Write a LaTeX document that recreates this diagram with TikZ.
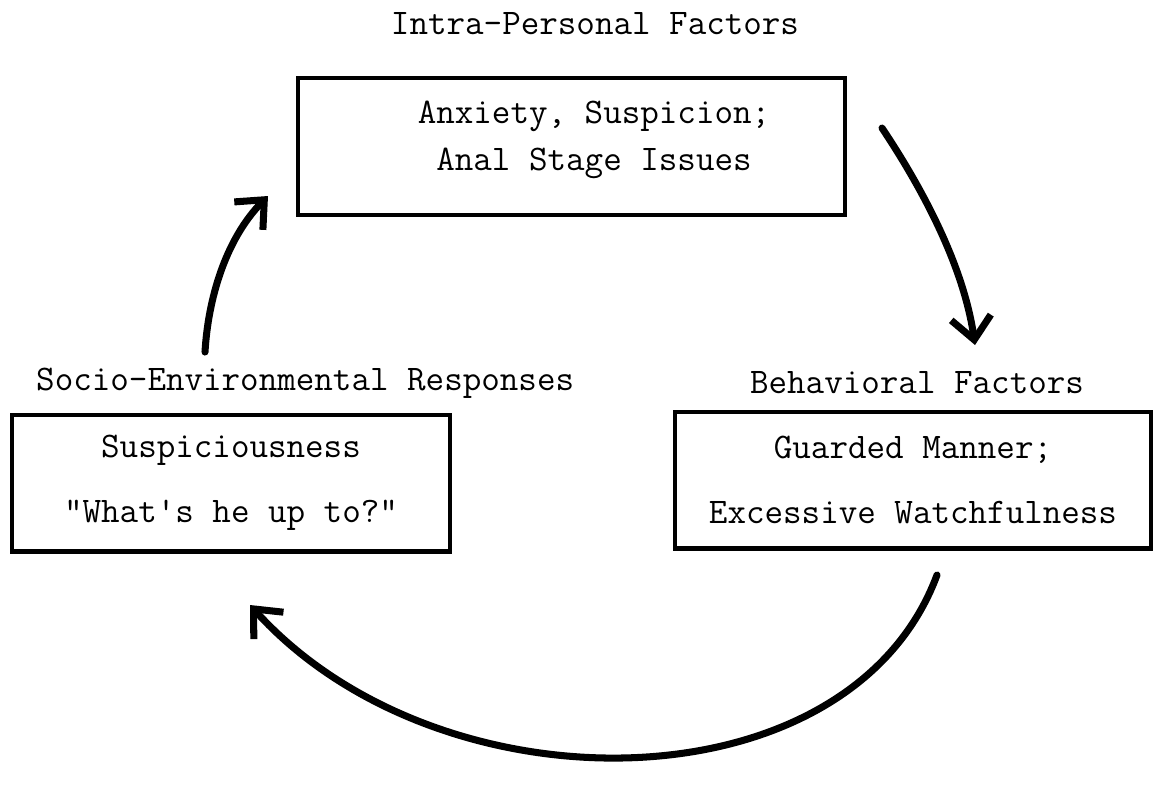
\documentclass[tikz,border=0pt]{standalone}
\usepackage{fontspec}
\usetikzlibrary{arrows.meta}
\tikzset{
  factorbox/.style={draw, line width=2.3pt, minimum height=2.74cm, align=center},
  loop/.style={line width=4pt, line cap=round, -{Straight Barb[length=4.5mm, width=8mm, line width=4pt]}},
}
\begin{document}
\begin{tikzpicture}[x=0.02cm, y=-0.02cm, font=\ttfamily\fontsize{20.5}{37}\selectfont]
\useasboundingbox (0,0) rectangle (1156,792);

\node (intra) at (595,24) {Intra-Personal Factors};
\draw [line width=2.3pt] (298,78) rectangle (845,215);
\node [align=center, font=\ttfamily\fontsize{20.5}{27}\selectfont] (anxiety) at (594,140) {Anxiety, Suspicion;\\Anal Stage Issues};

\node [anchor=west] (socio) at (30,383) {Socio-Environmental Responses};
\node [factorbox, minimum width=8.76cm] (suspicious) at (231,483) {Suspiciousness\\"What's he up to?"};

\node (behav) at (917,383) {Behavioral Factors};
\node [factorbox, minimum width=9.54cm] (guarded) at (913,480) {Guarded Manner;\\Excessive Watchfulness};

\coordinate (up1) at (205,352);
\coordinate (up2) at (268,196);
\coordinate (down1) at (882,128);
\coordinate (down2) at (975,345);
\coordinate (round1) at (937,575);
\coordinate (round2) at (250,605);

\draw [loop] (up1) .. controls (208,300) and (225,240) .. (up2);
\draw [loop] (down1) .. controls (910,170) and (962,255) .. (down2);
\draw [loop] (round1) .. controls (850,810) and (440,815) .. (round2);
\end{tikzpicture}
\end{document}
